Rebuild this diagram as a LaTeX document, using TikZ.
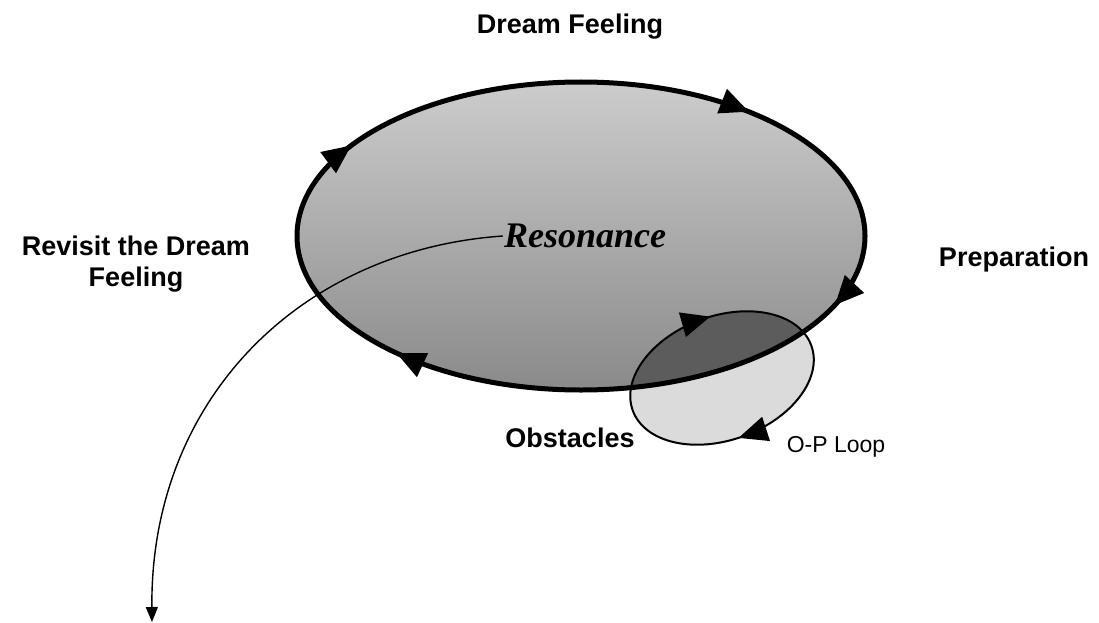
\documentclass[tikz,border=0pt]{standalone}
\usepackage{fontspec}
\setmainfont{Liberation Sans}
\newfontfamily\resfont{Liberation Serif}
\usetikzlibrary{arrows.meta,decorations.markings}
\tikzset{
  tri/.tip={Triangle[length=29pt,width=25pt]},
  lbl/.style={font=\fontsize{27}{31}\selectfont\bfseries, align=center},
  bigloop/.style={decoration={markings,
      mark=at position 0.055 with {\arrow{tri}},
      mark=at position 0.385 with {\arrow{tri}},
      mark=at position 0.578 with {\arrow{tri}},
      mark=at position 0.872 with {\arrow{tri}}}, postaction={decorate}},
  oploop/.style={decoration={markings,
      mark=at position 0.26 with {\arrow{tri}},
      mark=at position 0.77 with {\arrow{tri}}}, postaction={decorate}},
}
\begin{document}
\begin{tikzpicture}[x=1pt,y=-1pt]
    \useasboundingbox (0,0) rectangle (1099,623);
    \coordinate (dream) at (581,236);
    \coordinate (op) at (722,378);
    % fills
    \path [top color=black!20, middle color=black!36, bottom color=black!46] (dream) ellipse [x radius=284, y radius=154];
    \begin{scope}[rotate around={20:(op)}]
        \fill [black!14] (op) ellipse [x radius=95, y radius=62];
        \begin{scope}
            \clip [rotate around={-20:(op)}] (dream) ellipse [x radius=284, y radius=154];
            \fill [black!64] (op) ellipse [x radius=95, y radius=62];
        \end{scope}
        \draw [line width=2pt, oploop] (op) ellipse [x radius=95, y radius=62];
    \end{scope}
    \draw [line width=5pt, bigloop] (dream) ellipse [x radius=284, y radius=154];
    % lecter
    \node [lbl] (top) at (570,27) {Dream Feeling};
    \node [lbl] (rev) at (136,264) {Revisit the Dream\\Feeling};
    \node [lbl] (prep) at (1014,260) {Preparation};
    \node [lbl] (obs) at (570,438) {Obstacles};
    \node [font=\fontsize{23}{26}\selectfont] (oplbl) at (836,447) {O-P Loop};
    \node [inner sep=1pt, font=\fontsize{36}{40}\selectfont\resfont\bfseries\itshape] (res) at (585,236) {Resonance};
    \coordinate (out) at (152,622);
    \draw [line width=1.4pt, -{Triangle[length=15pt,width=12pt]}] (res.west) .. controls (300,250) and (150,400) .. (out);
\end{tikzpicture}
\end{document}
